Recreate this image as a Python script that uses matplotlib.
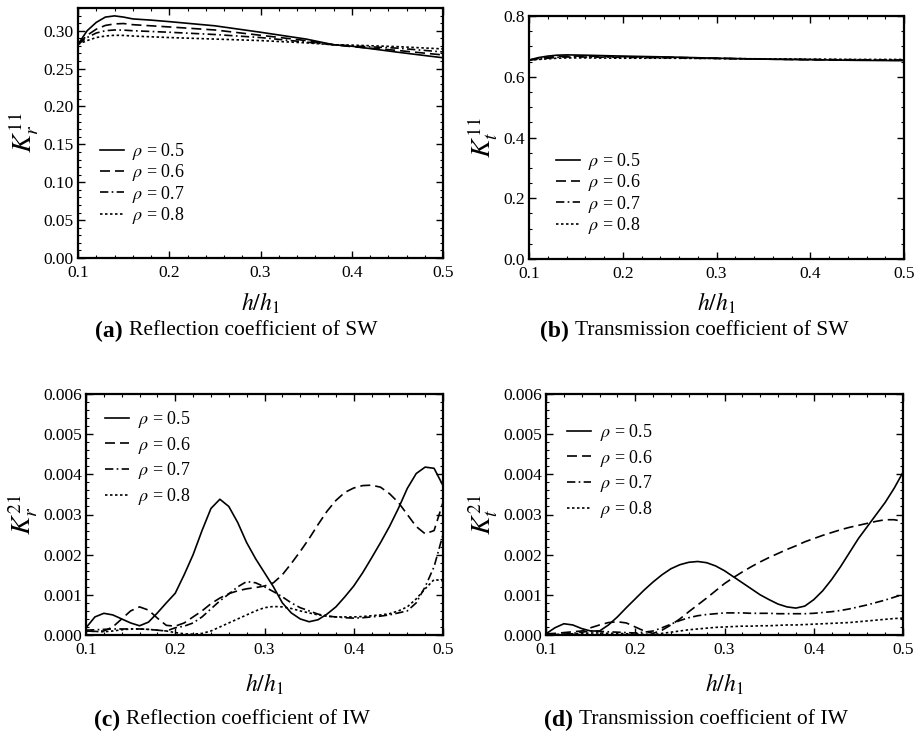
import matplotlib
matplotlib.use("Agg")
import matplotlib.pyplot as plt
from matplotlib.ticker import MultipleLocator, FormatStrFormatter

plt.rcParams['font.family'] = ['Liberation Serif', 'DejaVu Serif']
plt.rcParams['mathtext.fontset'] = 'stix'

rho_labels = [r'$\rho$ = 0.5', r'$\rho$ = 0.6', r'$\rho$ = 0.7', r'$\rho$ = 0.8']

# (a) reflection coefficient of SW
xa = [0.10, 0.11, 0.12, 0.13, 0.14, 0.15, 0.16, 0.18, 0.20, 0.25, 0.30, 0.35, 0.38, 0.40, 0.45, 0.50]
ka = [
    [0.282, 0.300, 0.311, 0.318, 0.3196, 0.318, 0.3156, 0.314, 0.312, 0.3065, 0.298, 0.289, 0.2815, 0.2796, 0.2717, 0.2643],
    [0.282, 0.294, 0.302, 0.307, 0.309, 0.3095, 0.308, 0.3065, 0.305, 0.301, 0.294, 0.287, 0.2815, 0.279, 0.274, 0.268],
    [0.282, 0.291, 0.297, 0.300, 0.301, 0.3008, 0.300, 0.299, 0.298, 0.295, 0.291, 0.285, 0.2815, 0.280, 0.277, 0.272],
    [0.282, 0.287, 0.291, 0.293, 0.294, 0.2938, 0.293, 0.292, 0.291, 0.289, 0.287, 0.284, 0.2815, 0.281, 0.279, 0.276],
]

# (b) transmission coefficient of SW
xb = [0.10, 0.11, 0.12, 0.13, 0.14, 0.16, 0.20, 0.25, 0.30, 0.35, 0.40, 0.45, 0.50]
kb = [
    [0.655, 0.663, 0.668, 0.671, 0.672, 0.671, 0.668, 0.665, 0.661, 0.658, 0.656, 0.654, 0.653],
    [0.655, 0.660, 0.664, 0.667, 0.668, 0.668, 0.666, 0.664, 0.661, 0.658, 0.656, 0.655, 0.654],
    [0.655, 0.658, 0.661, 0.664, 0.665, 0.665, 0.664, 0.662, 0.660, 0.658, 0.657, 0.656, 0.655],
    [0.655, 0.657, 0.659, 0.661, 0.662, 0.662, 0.661, 0.661, 0.660, 0.659, 0.658, 0.657, 0.657],
]

# (c) reflection coefficient of IW
xc = [0.10, 0.11, 0.12, 0.13, 0.14, 0.15, 0.16, 0.17, 0.18, 0.19, 0.20, 0.21, 0.22, 0.23, 0.24, 0.25,
      0.26, 0.27, 0.28, 0.29, 0.30, 0.31, 0.32, 0.33, 0.34, 0.35, 0.36, 0.37, 0.38, 0.39, 0.40, 0.41,
      0.42, 0.43, 0.44, 0.45, 0.46, 0.47, 0.48, 0.49, 0.50]
kc = [
    [0.00018, 0.00045, 0.00054, 0.00050, 0.00040, 0.00030, 0.00023, 0.00032, 0.00055, 0.00080, 0.00104, 0.00150, 0.00200, 0.00260, 0.00315, 0.00338,
     0.00320, 0.00280, 0.00230, 0.00190, 0.00155, 0.00120, 0.00080, 0.00055, 0.00040, 0.00033, 0.00038, 0.00052, 0.00070, 0.00095, 0.00122, 0.00155,
     0.00192, 0.00230, 0.00270, 0.00315, 0.00365, 0.00402, 0.00418, 0.00415, 0.00372],
    [0.00010, 0.00009, 0.00010, 0.00020, 0.00040, 0.00060, 0.00070, 0.00062, 0.00042, 0.00024, 0.00022, 0.00030, 0.00045, 0.00060, 0.00078, 0.00092,
     0.00103, 0.00110, 0.00115, 0.00118, 0.00122, 0.00130, 0.00150, 0.00178, 0.00208, 0.00240, 0.00275, 0.00308, 0.00335, 0.00355, 0.00366, 0.00372,
     0.00373, 0.00368, 0.00352, 0.00330, 0.00300, 0.00270, 0.00252, 0.00260, 0.00330],
    [0.00012, 0.00013, 0.00014, 0.00015, 0.00015, 0.00015, 0.00015, 0.00014, 0.00012, 0.00010, 0.00018, 0.00022, 0.00030, 0.00045, 0.00065, 0.00085,
     0.00102, 0.00120, 0.00133, 0.00130, 0.00120, 0.00108, 0.00095, 0.00080, 0.00068, 0.00060, 0.00052, 0.00047, 0.00045, 0.00043, 0.00042, 0.00043,
     0.00045, 0.00047, 0.00050, 0.00055, 0.00060, 0.00080, 0.00120, 0.00170, 0.00250],
    [0.00010, 0.00009, 0.00008, 0.00010, 0.00013, 0.00015, 0.00015, 0.00014, 0.00012, 0.00010, 0.00006, 0.00003, 0.00002, 0.00004, 0.00010, 0.00020,
     0.00030, 0.00040, 0.00050, 0.00060, 0.00068, 0.00071, 0.00070, 0.00066, 0.00060, 0.00055, 0.00050, 0.00047, 0.00045, 0.00045, 0.00045, 0.00046,
     0.00048, 0.00050, 0.00053, 0.00060, 0.00070, 0.00090, 0.00115, 0.00138, 0.00135],
]

# (d) transmission coefficient of IW
xd = xc
kd = [
    [0.00003, 0.00018, 0.00028, 0.00025, 0.00016, 0.00010, 0.00010, 0.00025, 0.00045, 0.00068, 0.00090, 0.00112, 0.00132, 0.00150, 0.00165, 0.00175,
     0.00181, 0.00183, 0.00180, 0.00172, 0.00160, 0.00145, 0.00130, 0.00115, 0.00100, 0.00088, 0.00077, 0.00070, 0.00067, 0.00072, 0.00088, 0.00110,
     0.00138, 0.00170, 0.00205, 0.00240, 0.00270, 0.00300, 0.00330, 0.00365, 0.00405],
    [0.00003, 0.00004, 0.00006, 0.00008, 0.00010, 0.00018, 0.00025, 0.00031, 0.00033, 0.00030, 0.00020, 0.00010, 0.00004, 0.00012, 0.00025, 0.00040,
     0.00058, 0.00075, 0.00092, 0.00110, 0.00128, 0.00143, 0.00157, 0.00170, 0.00182, 0.00193, 0.00203, 0.00213, 0.00222, 0.00232, 0.00240, 0.00248,
     0.00255, 0.00262, 0.00268, 0.00273, 0.00278, 0.00283, 0.00287, 0.00287, 0.00283],
    [0.00000, 0.00001, 0.00002, 0.00004, 0.00007, 0.00010, 0.00009, 0.00008, 0.00007, 0.00006, 0.00005, 0.00007, 0.00010, 0.00018, 0.00027, 0.00036,
     0.00043, 0.00048, 0.00051, 0.00053, 0.00055, 0.00055, 0.00055, 0.00054, 0.00054, 0.00054, 0.00053, 0.00053, 0.00053, 0.00053, 0.00054, 0.00056,
     0.00058, 0.00061, 0.00065, 0.00070, 0.00075, 0.00081, 0.00087, 0.00094, 0.00101],
    [0.00000, 0.00001, 0.00002, 0.00003, 0.00004, 0.00005, 0.00005, 0.00004, 0.00004, 0.00003, 0.00003, 0.00002, 0.00001, 0.00004, 0.00007, 0.00010,
     0.00013, 0.00015, 0.00017, 0.00019, 0.00020, 0.00021, 0.00022, 0.00022, 0.00023, 0.00023, 0.00024, 0.00025, 0.00025, 0.00026, 0.00027, 0.00028,
     0.00029, 0.00030, 0.00031, 0.00033, 0.00035, 0.00037, 0.00039, 0.00041, 0.00042],
]

styles = ['-', (0, (6, 3)), (0, (5, 2, 1, 2)), (0, (1.5, 1.5))]

fig = plt.figure(figsize=(9.17, 7.35), dpi=100)
W, H = 917, 735


def make_ax(l, r, t, b):
    return fig.add_axes([l / W, 1 - b / H, (r - l) / W, (b - t) / H])


panels = [
    dict(box=(78, 443, 8, 258), x=xa, k=ka, ylim=(0, 0.33), major=0.05, minor=0.01, fmt='%.2f',
         ylabel=r'$K_r^{11}$', leg=(100, 141), lsp=0.02, cap='(a)', text='Reflection coefficient of SW',
         cx=236, lab_y=303, cap_y=331),
    dict(box=(529, 904, 16, 259), x=xb, k=kb, ylim=(0, 0.8), major=0.2, minor=0.05, fmt='%.1f',
         ylabel=r'$K_t^{11}$', leg=(556, 151), lsp=0.02, cap='(b)', text='Transmission coefficient of SW',
         cx=694, lab_y=303, cap_y=331),
    dict(box=(86, 443, 394, 635), x=xc, k=kc, ylim=(0, 0.006), major=0.001, minor=0.0002, fmt='%.3f',
         ylabel=r'$K_r^{21}$', leg=(105, 409), lsp=0.26, cap='(c)', text='Reflection coefficient of IW',
         cx=232, lab_y=684, cap_y=720),
    dict(box=(546, 903, 394, 635), x=xd, k=kd, ylim=(0, 0.006), major=0.001, minor=0.0002, fmt='%.3f',
         ylabel=r'$K_t^{21}$', leg=(567, 422), lsp=0.26, cap='(d)', text='Transmission coefficient of IW',
         cx=696, lab_y=684, cap_y=720),
]

captions = []
for p in panels:
    l, r, t, b = p['box']
    ax = make_ax(l, r, t, b)
    for ys, ls, lab in zip(p['k'], styles, rho_labels):
        ax.plot(p['x'], ys, color='black', linestyle=ls, linewidth=1.2, label=lab)
    ax.set_xlim(0.1, 0.5)
    ax.set_ylim(*p['ylim'])
    ax.xaxis.set_major_locator(MultipleLocator(0.1))
    ax.xaxis.set_minor_locator(MultipleLocator(0.02))
    ax.yaxis.set_major_locator(MultipleLocator(p['major']))
    ax.yaxis.set_minor_locator(MultipleLocator(p['minor']))
    ax.xaxis.set_major_formatter(FormatStrFormatter('%.1f'))
    ax.yaxis.set_major_formatter(FormatStrFormatter(p['fmt']))
    ax.tick_params(which='both', direction='in', top=True, right=True, labelsize=12.5)
    ax.tick_params(axis='x', pad=5)
    ax.tick_params(axis='y', pad=3)
    ax.tick_params(which='major', length=5, width=1)
    ax.tick_params(which='minor', length=2.5, width=0.8)
    for s in ax.spines.values():
        s.set_linewidth(1.6)
    ax.set_ylabel(p['ylabel'], fontsize=20, labelpad=2)
    lx, ly = p['leg']
    ax.legend(loc='upper left', bbox_to_anchor=((lx - l) / (r - l), (b - ly) / (b - t)),
              frameon=False, fontsize=13, handlelength=1.35, handletextpad=0.45,
              labelspacing=p['lsp'], borderaxespad=0, borderpad=0)
    fig.text((l + r) / 2 / W, 1 - p['lab_y'] / H, r'$h/h_1$', fontsize=17, ha='center', va='center')
    t1 = fig.text(0, 1 - p['cap_y'] / H, p['cap'], fontsize=17, fontweight='bold', ha='left', va='center')
    t2 = fig.text(0, 1 - p['cap_y'] / H, p['text'], fontsize=15.5, ha='left', va='center')
    captions.append((t1, t2, p['cx']))

# center each caption (bold tag + text) on its position
fig.canvas.draw()
rend = fig.canvas.get_renderer()
for t1, t2, cx in captions:
    w1 = t1.get_window_extent(rend).width
    w2 = t2.get_window_extent(rend).width
    gap = 6
    x0 = cx - (w1 + gap + w2) / 2
    t1.set_x(x0 / W)
    t2.set_x((x0 + w1 + gap) / W)

fig.savefig('out.png', dpi=100)
